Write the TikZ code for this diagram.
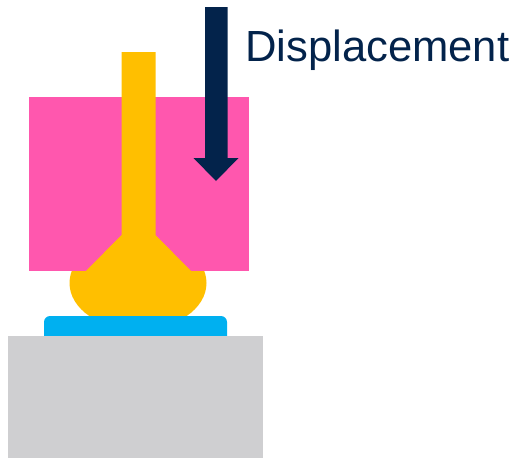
\documentclass[tikz,border=0pt]{standalone}
\usepackage{fontspec}
\setmainfont{Liberation Sans}
\definecolor{pinkc}{HTML}{FF57AE}
\definecolor{yellowc}{HTML}{FFBF00}
\definecolor{bluec}{HTML}{00B0F0}
\definecolor{grayc}{HTML}{CFCFD1}
\definecolor{navyc}{HTML}{03234B}
\tikzset{part/.style={line width=0pt,draw=none}}
\begin{document}
\begin{tikzpicture}[x=1pt,y=-1pt]
\useasboundingbox (0,0) rectangle (517,458);
% ball
\fill[yellowc] (138,283) ellipse [x radius=68.5,y radius=47];
% pink body
\fill[pinkc] (29,97) rectangle (249,271);
% capillary
\fill[yellowc] (121.5,52) -- (155.5,52) -- (155.5,235) -- (191,271) -- (195,300) -- (82,300) -- (86,271) -- (121.5,235) -- cycle;
% pad
\fill[bluec] (44,336) -- (44,322) arc[start angle=180,end angle=270,radius=6] -- (221,316) arc[start angle=270,end angle=360,radius=6] -- (227,336) -- cycle;
% base
\fill[grayc] (8,336) rectangle (263,458);
% arrow
\fill[navyc] (205,7) -- (227.5,7) -- (227.5,158) -- (238.5,158) -- (216,181) -- (193.5,158) -- (205,158) -- cycle;
\node[anchor=base west,inner sep=0pt,text=navyc,font=\fontsize{43.6}{50}\selectfont] (label) at (245,61) {Displacement};
\end{tikzpicture}
\end{document}
